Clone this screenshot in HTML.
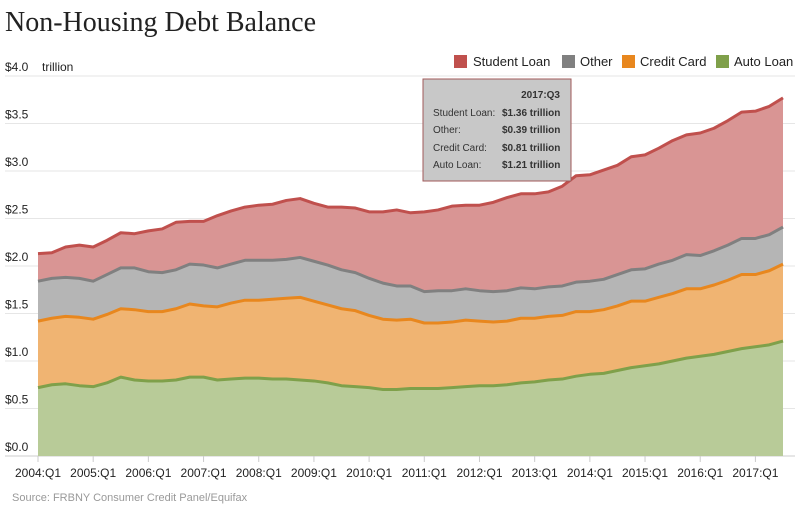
<!DOCTYPE html>
<html><head><meta charset="utf-8"><style>
body{margin:0;background:#fff;width:807px;height:514px;overflow:hidden;font-family:"Liberation Sans",sans-serif}
</style></head><body>
<svg id="c" width="807" height="514" xmlns="http://www.w3.org/2000/svg">
<text x="5" y="31" font-family="Liberation Serif,serif" font-size="28" fill="#222">Non-Housing Debt Balance</text>
<g id="legend" font-size="13" fill="#222">
<g><rect x="454" y="55" width="13" height="13" fill="#c0504d"/><text x="473" y="66">Student Loan</text></g>
<g><rect x="562" y="55" width="13" height="13" fill="#808080"/><text x="580" y="66">Other</text></g>
<g><rect x="622" y="55" width="13" height="13" fill="#e8871e"/><text x="640" y="66">Credit Card</text></g>
<g><rect x="716" y="55" width="13" height="13" fill="#7fa04a"/><text x="734" y="66">Auto Loan</text></g>
</g>
<g id="grid"></g><g id="areas"></g><g id="lines"></g><g id="axes"></g>
<text x="42" y="71" font-size="12" fill="#222">trillion</text>
<text x="12" y="501" font-size="11" fill="#999">Source: FRBNY Consumer Credit Panel/Equifax</text>
<g font-size="10" fill="#333">
<rect x="423" y="79" width="148" height="102" fill="#c8c8c8" stroke="#a05a5a" stroke-width="1"/>
<text x="560" y="98" text-anchor="end" font-weight="bold">2017:Q3</text>
<text x="433" y="116">Student Loan:</text><text x="502" y="116" font-weight="bold">$1.36 trillion</text>
<text x="433" y="133">Other:</text><text x="502" y="133" font-weight="bold">$0.39 trillion</text>
<text x="433" y="151">Credit Card:</text><text x="502" y="151" font-weight="bold">$0.81 trillion</text>
<text x="433" y="168">Auto Loan:</text><text x="502" y="168" font-weight="bold">$1.21 trillion</text>
</g>
</svg>
<script>
const years=["2004","2005","2006","2007","2008","2009","2010","2011","2012","2013","2014","2015","2016","2017"];
const yTicks=[0,0.5,1.0,1.5,2.0,2.5,3.0,3.5,4.0];
const autoLoan=[0.72,0.75,0.76,0.74,0.73,0.77,0.83,0.80,0.79,0.79,0.80,0.83,0.83,0.80,0.81,0.82,0.82,0.81,0.81,0.80,0.79,0.77,0.74,0.73,0.72,0.70,0.70,0.71,0.71,0.71,0.72,0.73,0.74,0.74,0.75,0.77,0.78,0.80,0.81,0.84,0.86,0.87,0.90,0.93,0.95,0.97,1.00,1.03,1.05,1.07,1.10,1.13,1.15,1.17,1.21];
const creditCard=[0.70,0.70,0.71,0.72,0.71,0.72,0.72,0.74,0.73,0.73,0.75,0.77,0.75,0.77,0.80,0.82,0.82,0.84,0.85,0.87,0.84,0.82,0.81,0.80,0.76,0.74,0.73,0.73,0.69,0.69,0.69,0.70,0.68,0.67,0.67,0.68,0.67,0.67,0.67,0.68,0.66,0.67,0.68,0.70,0.68,0.70,0.71,0.73,0.71,0.73,0.75,0.78,0.76,0.78,0.81];
const other=[0.42,0.42,0.41,0.41,0.40,0.42,0.43,0.44,0.42,0.41,0.41,0.42,0.43,0.41,0.41,0.42,0.42,0.41,0.41,0.42,0.42,0.42,0.41,0.40,0.39,0.38,0.36,0.35,0.33,0.34,0.33,0.33,0.32,0.32,0.32,0.32,0.31,0.31,0.31,0.31,0.32,0.32,0.33,0.33,0.34,0.35,0.35,0.36,0.35,0.36,0.37,0.38,0.38,0.38,0.39];
const studentLoan=[0.29,0.27,0.32,0.35,0.36,0.36,0.37,0.36,0.43,0.46,0.50,0.45,0.46,0.55,0.56,0.56,0.58,0.59,0.62,0.62,0.61,0.61,0.66,0.68,0.70,0.75,0.80,0.77,0.84,0.85,0.89,0.88,0.90,0.94,0.98,0.99,1.00,1.00,1.05,1.12,1.12,1.15,1.15,1.19,1.20,1.22,1.26,1.26,1.29,1.29,1.31,1.33,1.34,1.35,1.36];
const NS="http://www.w3.org/2000/svg";
const X0=38,X1=783,Y0=456,PPT=95;
const n=autoLoan.length;
const xs=i=>X0+(X1-X0)*i/(n-1);
const ys=v=>Y0-v*PPT;
function mk(tag,attrs,parent){const e=document.createElementNS(NS,tag);for(const k in attrs)e.setAttribute(k,attrs[k]);parent.appendChild(e);return e;}
const grid=document.getElementById('grid'),areas=document.getElementById('areas'),lines=document.getElementById('lines'),axes=document.getElementById('axes');
yTicks.forEach(t=>{
  const l=mk('line',{x1:5,x2:795,y1:ys(t),y2:ys(t),stroke:t===0?'#ccc':'#e6e6e6','stroke-width':1},grid);
  
  
  const tx=mk('text',{x:5,y:ys(t)-5,'font-size':12,fill:'#222'},grid);
  tx.textContent='$'+t.toFixed(1);
  
  
});
const series=[
 {name:'auto-loan',d:autoLoan,fill:'#b8cb98',line:'#7fa04a'},
 {name:'credit-card',d:creditCard,fill:'#f0b472',line:'#e8871e'},
 {name:'other',d:other,fill:'#b5b5b5',line:'#808080'},
 {name:'student-loan',d:studentLoan,fill:'#d99594',line:'#c0504d'}];
let base=new Array(n).fill(0);
series.forEach(s=>{
  const top=base.map((b,i)=>b+s.d[i]);
  let p='';
  for(let i=0;i<n;i++)p+=(i?'L':'M')+xs(i)+','+ys(top[i]);
  let a=p;
  for(let i=n-1;i>=0;i--)a+='L'+xs(i)+','+ys(base[i]);
  const ar=mk('path',{d:a+'Z',fill:s.fill,stroke:'none'},areas);
  
  
  const ln=mk('path',{d:p,fill:'none',stroke:s.line,'stroke-width':3,'stroke-linejoin':'round'},lines);
  
  
  base=top;
});
years.forEach((y,k)=>{
  const x=xs(k*4);
  const tk=mk('line',{x1:x,x2:x,y1:Y0,y2:Y0+6,stroke:'#ccc'},axes);
  
  
  const tx=mk('text',{x:x,y:477,'font-size':12,fill:'#222','text-anchor':'middle'},axes);
  tx.textContent=y+':Q1';
  
  
});
</script>
</body></html>
